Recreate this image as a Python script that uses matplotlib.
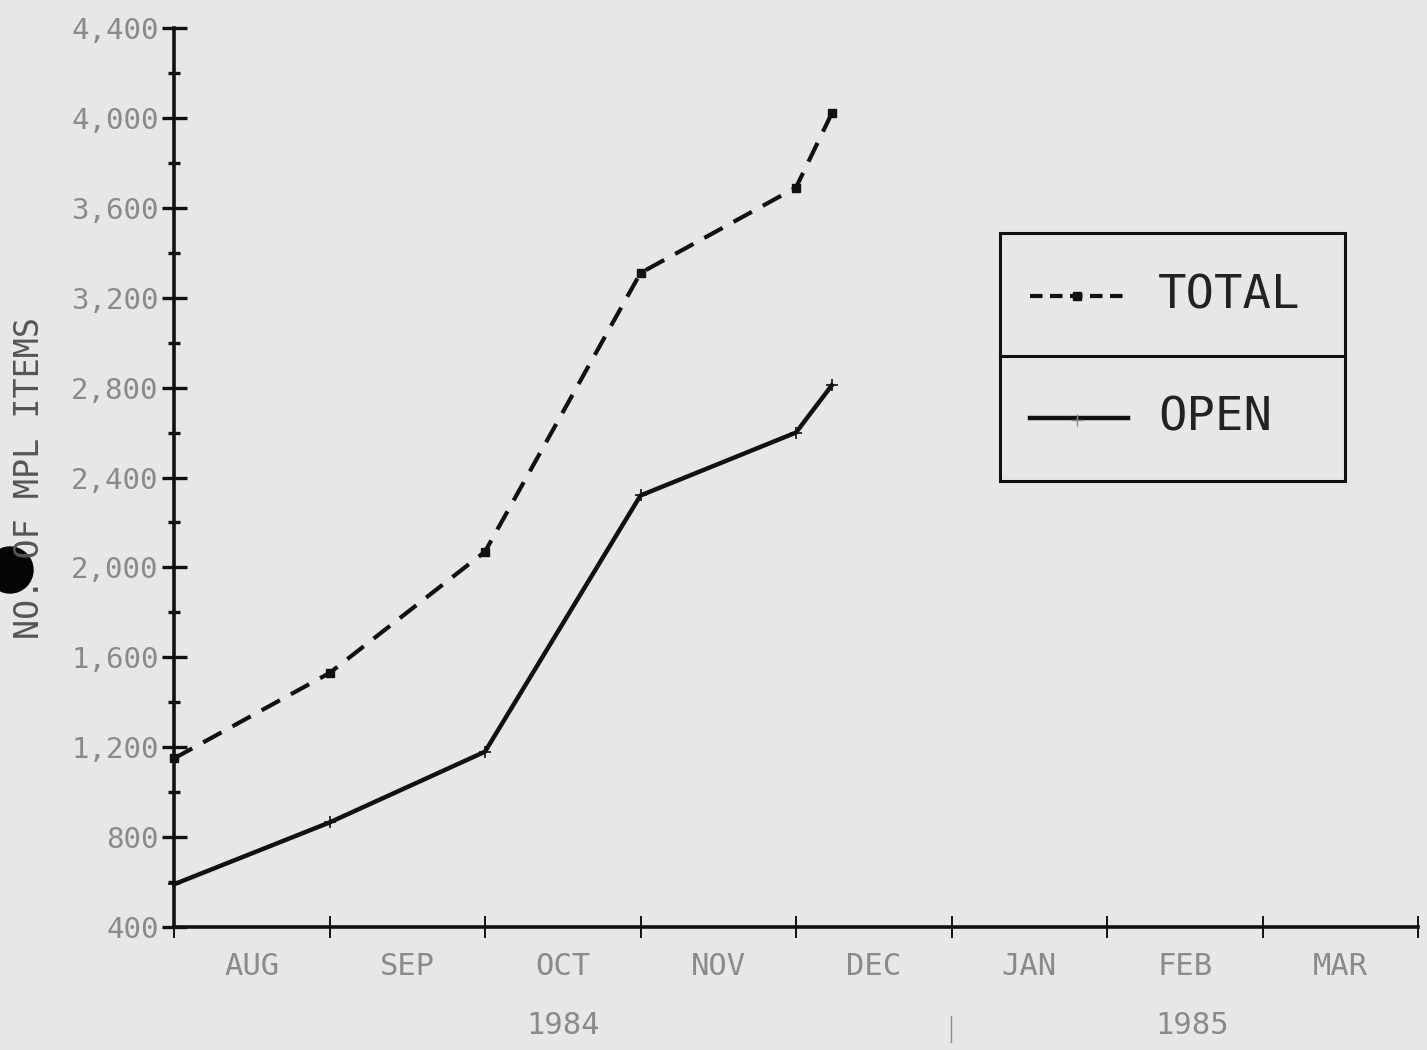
import matplotlib
matplotlib.use("Agg")
import matplotlib.pyplot as plt
from matplotlib.lines import Line2D
from matplotlib.patches import Rectangle, Ellipse
from matplotlib.ticker import MultipleLocator, FixedLocator

# months since start of AUG 1984
months = ["AUG", "SEP", "OCT", "NOV", "DEC", "JAN", "FEB", "MAR"]
x_pts = [0, 1, 2, 3, 4, 4.23]
total_items = [1150, 1530, 2070, 3310, 3690, 4020]
open_items = [590, 865, 1180, 2320, 2600, 2810]
y_ticks = [400, 800, 1200, 1600, 2000, 2400, 2800, 3200, 3600, 4000, 4400]
y_labels = ["400", "800", "1,200", "1,600", "2,000", "2,400", "2,800",
            "3,200", "3,600", "4,000", "4,400"]
years = [("1984", 2.5), ("1985", 6.55)]

paper = "#e7e7e5"
ink = "#111111"
faint = "#8a8a8a"
mono = "DejaVu Sans Mono"

W, H = 1427, 1050
fig = plt.figure(figsize=(W / 100, H / 100), dpi=100, facecolor=paper)


def fx(px):
    return px / W


def fy(py):
    return 1 - py / H


ax = fig.add_axes([fx(174), fy(927), fx(1418) - fx(174), fy(28) - fy(927)])
ax.set_facecolor(paper)

ax.plot(x_pts, total_items, color=ink, lw=3, dashes=(5, 3),
        marker="s", ms=6, clip_on=False)
ax.plot(x_pts, open_items, color=ink, lw=3.2,
        marker="+", ms=9, mew=1.2, clip_on=False)

ax.set_xlim(0, 8)
ax.set_ylim(400, 4400)

for s in ["top", "right"]:
    ax.spines[s].set_visible(False)
for s in ["left", "bottom"]:
    ax.spines[s].set_linewidth(2.6)
    ax.spines[s].set_color(ink)

ax.yaxis.set_major_locator(FixedLocator(y_ticks))
ax.set_yticklabels(y_labels)
ax.yaxis.set_minor_locator(MultipleLocator(200))
ax.tick_params(axis="y", which="major", direction="inout", length=18,
               width=2.4, color=ink, pad=2, labelsize=21, labelcolor=faint)
ax.tick_params(axis="y", which="minor", direction="inout", length=9,
               width=2.4, color=ink)

# month boundaries get the ticks, names sit between them
ax.xaxis.set_major_locator(MultipleLocator(1))
ax.xaxis.set_minor_locator(FixedLocator([i + 0.5 for i in range(len(months))]))
ax.set_xticklabels([])
ax.set_xticklabels(months, minor=True)
ax.tick_params(axis="x", which="major", direction="inout", length=16,
               width=1.4, color=ink)
ax.tick_params(axis="x", which="minor", length=0, pad=18,
               labelsize=22, labelcolor=faint)
for lab in ax.get_xticklabels(minor=True) + ax.get_yticklabels():
    lab.set_family(mono)

for yr, xc in years:
    ax.text(xc, -0.11, yr, transform=ax.get_xaxis_transform(), ha="center",
            va="center", fontsize=22, color=faint, family=mono)
fig.add_artist(Line2D([fx(951), fx(951)], [fy(1016), fy(1042)],
                      color=faint, lw=1))

fig.text(fx(30), fy(478), "NO. OF MPL ITEMS", rotation=90, ha="center",
         va="center", fontsize=24, color="#555555", family=mono)

# legend box
fig.add_artist(Rectangle((fx(1000), fy(481)), fx(1345) - fx(1000),
                         fy(233) - fy(481), fill=False, ec=ink, lw=2.2))
fig.add_artist(Line2D([fx(1000), fx(1345)], [fy(356), fy(356)],
                      color=ink, lw=2.2))
fig.add_artist(Line2D([fx(1030), fx(1128)], [fy(296), fy(296)], color=ink,
                      lw=3, dashes=(3, 1.8)))
fig.add_artist(Line2D([fx(1077)], [fy(296)], color=ink, marker="s", ms=6))
fig.add_artist(Line2D([fx(1030), fx(1128)], [fy(418), fy(418)], color=ink,
                      lw=3.2))
fig.add_artist(Line2D([fx(1077)], [fy(420)], color=faint, marker="+", ms=8,
                      mew=1))
fig.text(fx(1158), fy(296), "TOTAL", ha="left", va="center", fontsize=34,
         color="#222222", family=mono)
fig.text(fx(1158), fy(418), "OPEN", ha="left", va="center", fontsize=34,
         color="#222222", family=mono)

# punch hole at the left edge
fig.add_artist(Ellipse((fx(10), fy(570)), fx(46), 46 / H, color="#050505",
                       transform=fig.transFigure))

fig.savefig("out.png", dpi=100, facecolor=paper)
